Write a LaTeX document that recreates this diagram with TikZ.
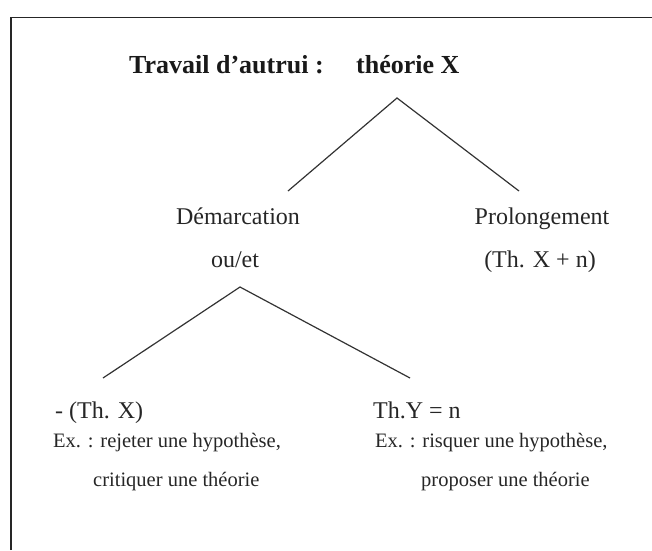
\documentclass[tikz,border=0pt]{standalone}
\usepackage{fontspec}
\setmainfont{Liberation Serif}
\begin{document}
\begin{tikzpicture}[x=1pt,y=-1pt,
  frameline/.style={draw=black!85, line width=1.8pt},
  branch/.style={draw=black!80, line width=1.2pt},
  titletext/.style={font=\fontsize{26}{30}\selectfont\bfseries, inner sep=0pt, text=black!90},
  midtext/.style={font=\fontsize{24}{28}\selectfont, inner sep=0pt, text=black!85},
  lowtext/.style={font=\fontsize{20.5}{24}\selectfont, inner sep=0pt, text=black!85}]
\useasboundingbox (0,0) rectangle (652,550);
\draw[frameline] (11,550) -- (11,17.5) -- (652,17.5);

% title
\node[titletext, anchor=base west] (trav) at (129,73) {Travail d’autrui :};
\node[titletext, anchor=base west] (theo) at (356,73) {théorie X};

% middle level
\node[midtext, anchor=base] (dem) at (238,224) {Démarcation};
\node[midtext, anchor=base] (ouet) at (235,267) {ou/et};
\node[midtext, anchor=base] (prol) at (542,224) {Prolongement};
\node[midtext, anchor=base] (thxn) at (540,267) {(Th. X + n)};

% bottom level
\node[midtext, anchor=base west] (negx) at (55,418) {- (Th. X)};
\node[lowtext, anchor=base west] (exl1) at (53,447) {Ex. : rejeter une hypothèse,};
\node[lowtext, anchor=base west] (exl2) at (93,486) {critiquer une théorie};
\node[midtext, anchor=base west] (thy) at (373,418) {Th.Y = n};
\node[lowtext, anchor=base west] (exr1) at (375,447) {Ex. : risquer une hypothèse,};
\node[lowtext, anchor=base west] (exr2) at (421,486) {proposer une théorie};

% branch points
\coordinate (apexA) at (397,98);
\coordinate (endAL) at (288,191);
\coordinate (endAR) at (519,191);
\coordinate (apexB) at (240,287);
\coordinate (endBL) at (103,378);
\coordinate (endBR) at (410,378);

\draw[branch] (endAL) -- (apexA) -- (endAR);
\draw[branch] (endBL) -- (apexB) -- (endBR);
\end{tikzpicture}
\end{document}
